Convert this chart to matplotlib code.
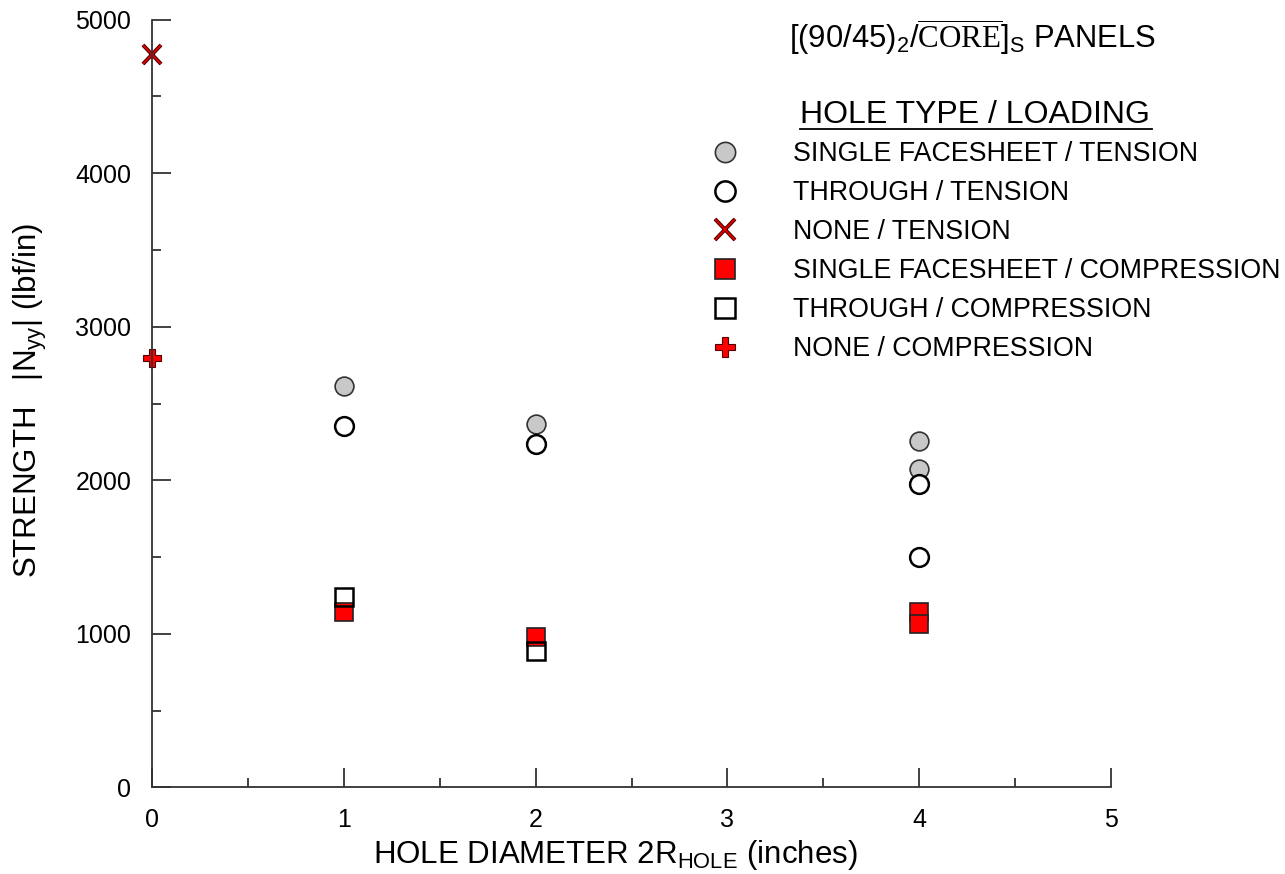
import matplotlib
matplotlib.use("Agg")
import matplotlib.pyplot as plt
from matplotlib.lines import Line2D
import matplotlib.patheffects as pe

plt.rcParams['font.family'] = ['Liberation Sans', 'DejaVu Sans']
plt.rcParams['mathtext.fontset'] = 'custom'
plt.rcParams['mathtext.rm'] = 'Liberation Sans'
plt.rcParams['mathtext.it'] = 'Liberation Sans'
plt.rcParams['mathtext.sf'] = 'Liberation Serif'

# data
sf_ten_x = [1, 2, 4, 4]
sf_ten_y = [2615, 2365, 2255, 2075]
th_ten_x = [1, 2, 4, 4]
th_ten_y = [2355, 2233, 1977, 1497]
none_ten_x = [0]
none_ten_y = [4772]
sf_comp_x = [1, 2, 4, 4]
sf_comp_y = [1139, 977, 1145, 1062]
th_comp_x = [1, 2]
th_comp_y = [1237, 885]
none_comp_x = [0]
none_comp_y = [2799]

labels = ["SINGLE FACESHEET / TENSION", "THROUGH / TENSION", "NONE / TENSION",
          "SINGLE FACESHEET / COMPRESSION", "THROUGH / COMPRESSION", "NONE / COMPRESSION"]

fig = plt.figure(figsize=(12.85, 8.74), dpi=100)
ax = fig.add_axes([152/1285, 1-787.3/874, (1111-152)/1285, (787.3-19.7)/874])

ms = 13.5
h1, = ax.plot(sf_ten_x, sf_ten_y, 'o', ms=ms, mfc='#c8c8c8', mec='#333333', mew=1.2, clip_on=False)
h2, = ax.plot(th_ten_x, th_ten_y, 'o', ms=ms, mfc='white', mec='black', mew=1.8, clip_on=False)
h3, = ax.plot(none_ten_x, none_ten_y, 'x', ms=ms, mec='#e00000', mew=1.4, clip_on=False,
              path_effects=[pe.Stroke(linewidth=2.8, foreground='#400000'), pe.Normal()])
h4, = ax.plot(sf_comp_x, sf_comp_y, 's', ms=ms, mfc='#ff0000', mec='#222222', mew=1.2, clip_on=False)
h5, = ax.plot(th_comp_x, th_comp_y, 's', ms=ms, mfc='none', mec='black', mew=1.8, clip_on=False)
h6, = ax.plot(none_comp_x, none_comp_y, 'P', ms=ms, mfc='#ff0000', mec='#550000', mew=0.8, clip_on=False)
h5.set_zorder(3)

ax.set_xlim(0, 5)
ax.set_ylim(0, 5000)
ax.set_xticks([0, 1, 2, 3, 4, 5])
ax.set_xticks([0.5, 1.5, 2.5, 3.5, 4.5], minor=True)
ax.set_yticks([0, 1000, 2000, 3000, 4000, 5000])
ax.set_yticks([500, 1500, 2500, 3500, 4500], minor=True)
ax.tick_params(which='both', direction='in', colors='#333333', labelcolor='black', width=1.3)
ax.tick_params(which='major', length=13.5, labelsize=18, pad=15)
ax.tick_params(which='minor', length=6.8)
for s in ['top', 'right']:
    ax.spines[s].set_visible(False)
for s in ['left', 'bottom']:
    ax.spines[s].set_color('#333333')
    ax.spines[s].set_linewidth(1.3)

fig.text(615/1285, 1-855/874, r'HOLE DIAMETER 2R$_{\mathrm{HOLE}}$ (inches)', fontsize=22.5,
         ha='center', va='center')
fig.text(30/1285, 1-400/874, r'STRENGTH   $|\mathrm{N}_{\mathrm{yy}}|$ (lbf/in)', fontsize=22.5,
         ha='center', va='center', rotation=90)

fig.text(789/1285, 1-37/874, r'$\mathrm{[(90/45)_2/}\overline{\mathsf{CORE}}\mathrm{]_S}$ PANELS',
         fontsize=22.3, ha='left', va='center')

fig.text(975/1285, 1-115/874, 'HOLE TYPE / LOADING', fontsize=23, ha='center', va='center')
fig.add_artist(Line2D([800/1285, 1152/1285], [1-129/874, 1-129/874], color='black', lw=1.3))

leg = ax.legend([h1, h2, h3, h4, h5, h6], labels, loc='upper left',
                bbox_to_anchor=(711.6/1285, 1-141/874), bbox_transform=fig.transFigure,
                frameon=False, fontsize=19.3, handlelength=1.0, handletextpad=2.04,
                labelspacing=0.485, borderpad=0, borderaxespad=0, markerscale=1.08)

fig.savefig('out.png', dpi=100)
